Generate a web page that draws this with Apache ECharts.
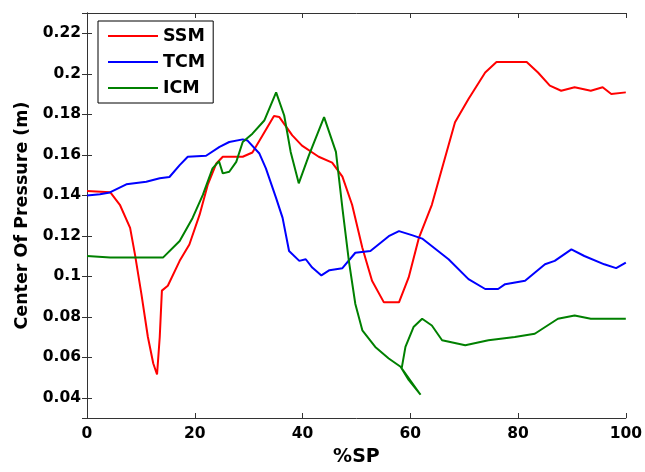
<!DOCTYPE html>
<html>
<head>
<meta charset="utf-8">
<script src="https://cdn.jsdelivr.net/npm/echarts@6/dist/echarts.min.js"></script>
<style>html,body{margin:0;padding:0;background:#fff;}#c{width:645px;height:472px;}</style>
</head>
<body>
<div id="c"></div>
<script>
var xTicks = [0, 20, 40, 60, 80, 100];
var yTickLabels = ['0.04','0.06','0.08','0.1','0.12','0.14','0.16','0.18','0.2','0.22'];

var ssmX = [0, 4.3, 6.1, 8, 8.9, 10.1, 11.3, 12.3, 13, 13.5, 13.9, 15, 17.2, 19, 20.9, 22.4, 24, 25.2, 28.9, 30.7, 32.6, 34.7, 35.7, 38.1, 39.9, 43, 45.5, 47.4, 49.2, 51.1, 52.9, 55.1, 57.9, 59.7, 61.6, 64, 65.9, 68.3, 70.8, 73.9, 76, 81.6, 83.7, 85.9, 88, 90.5, 93.5, 95.7, 97.3, 100];
var ssmY = [0.1421, 0.1415, 0.1353, 0.1239, 0.1108, 0.0912, 0.07, 0.0569, 0.0515, 0.07, 0.0929, 0.0953, 0.1076, 0.1157, 0.1304, 0.1451, 0.1557, 0.159, 0.159, 0.1611, 0.1696, 0.1791, 0.1786, 0.1696, 0.1645, 0.159, 0.1561, 0.1492, 0.1353, 0.1141, 0.0978, 0.0871, 0.0871, 0.0994, 0.119, 0.1353, 0.1533, 0.1761, 0.1875, 0.2006, 0.2058, 0.2058, 0.2006, 0.1941, 0.1916, 0.1933, 0.1916, 0.1933, 0.19, 0.1908];

var tcmX = [0, 2.4, 4.25, 7.3, 11, 13.5, 15.3, 17.2, 18.7, 22.1, 24.6, 26.4, 28.9, 29.8, 32, 33.2, 35.1, 36.3, 37.5, 39.4, 40.6, 41.8, 43.5, 45, 47.4, 49.8, 52.6, 56, 57.9, 60.3, 62.2, 67.1, 70.8, 73.9, 76.3, 77.6, 81.3, 85, 86.8, 89.9, 92.3, 96, 98.2, 100];
var tcmY = [0.1399, 0.1405, 0.1414, 0.1454, 0.1467, 0.1484, 0.149, 0.1549, 0.159, 0.1595, 0.1639, 0.1663, 0.1676, 0.167, 0.1606, 0.1533, 0.1386, 0.1288, 0.1125, 0.1076, 0.1084, 0.1043, 0.1004, 0.103, 0.104, 0.1116, 0.1125, 0.1198, 0.1223, 0.1203, 0.1186, 0.1084, 0.0986, 0.0937, 0.0937, 0.0961, 0.0978, 0.1059, 0.1076, 0.1133, 0.11, 0.1059, 0.104, 0.1067];

var icmX = [0, 4.3, 14.1, 17.2, 19.6, 21.5, 23.3, 24.5, 25.2, 26.4, 27.7, 28.9, 30.7, 32.9, 35.1, 36.6, 37.8, 39.3, 41.2, 44, 46.2, 47.4, 48.6, 49.8, 51.1, 53.5, 56, 58.2, 59.7, 61.9, 58.4, 59.1, 60.6, 62.2, 64, 65.9, 70.2, 74.5, 79.4, 83.1, 87.4, 90.5, 93.5, 100];
var icmY = [0.11, 0.1092, 0.1092, 0.1174, 0.1288, 0.1402, 0.1533, 0.1568, 0.1508, 0.1516, 0.1565, 0.1663, 0.1704, 0.1769, 0.1908, 0.1794, 0.1614, 0.1459, 0.1598, 0.1786, 0.1614, 0.1337, 0.1076, 0.0863, 0.0733, 0.0651, 0.0594, 0.0553, 0.0488, 0.0415, 0.0545, 0.0651, 0.0749, 0.079, 0.0757, 0.0684, 0.0659, 0.0684, 0.07, 0.0716, 0.079, 0.0806, 0.079, 0.079];

function zip(a, b) { return a.map(function (v, i) { return [v, b[i]]; }); }

var FONT = 'DejaVu Sans, sans-serif';
var AX = '#333';
var LINE_ICON = 'path://M0,0L50,0L50,2L0,2Z';

var chart = echarts.init(document.getElementById('c'), null, {renderer: 'canvas'});
var yFmt = function (v) {
  var s = v.toFixed(2).replace(/0+$/, '').replace(/\.$/, '');
  return yTickLabels.indexOf(s) >= 0 ? s : '';
};
var tickFont = {fontFamily: FONT, fontSize: 15.5, fontWeight: 'bold', color: '#000'};
chart.setOption({
  animation: false,
  backgroundColor: '#fff',
  grid: {left: 87, right: 17, top: 13, bottom: 50, containLabel: false},
  legend: {
    left: 98, top: 21, orient: 'vertical',
    backgroundColor: '#fff', borderColor: '#000', borderWidth: 1,
    padding: [6, 8, 6, 10], itemWidth: 50, itemHeight: 14, itemGap: 8,
    icon: LINE_ICON,
    textStyle: {fontFamily: FONT, fontSize: 17.5, fontWeight: 'bold', color: '#000'},
    data: ['SSM', 'TCM', 'ICM']
  },
  xAxis: [{
    type: 'value', min: 0, max: 100, interval: 20,
    name: '%SP', nameLocation: 'middle', nameGap: 30,
    nameTextStyle: {fontFamily: FONT, fontSize: 19, fontWeight: 'bold', color: '#000'},
    axisLine: {show: true, lineStyle: {color: AX, width: 1}},
    axisTick: {show: true, inside: true, length: 5, lineStyle: {color: AX}},
    axisLabel: Object.assign({margin: 8}, tickFont),
    splitLine: {show: false}
  }, {
    type: 'value', min: 0, max: 100, interval: 20, position: 'top',
    axisLine: {show: true, lineStyle: {color: AX, width: 1}},
    axisTick: {show: true, inside: true, length: 5, lineStyle: {color: AX}},
    axisLabel: {show: false}, splitLine: {show: false}
  }],
  yAxis: [{
    type: 'value', min: 0.03, max: 0.23, splitNumber: 10,
    name: 'Center Of Pressure (m)', nameLocation: 'middle', nameGap: 54,
    nameTextStyle: {fontFamily: FONT, fontSize: 17.5, fontWeight: 'bold', color: '#000'},
    axisLine: {show: true, lineStyle: {color: AX, width: 1}},
    axisTick: {show: true, inside: true, length: 5, lineStyle: {color: AX}},
    axisLabel: Object.assign({margin: 6, showMinLabel: false, showMaxLabel: false, formatter: yFmt}, tickFont),
    splitLine: {show: false}
  }, {
    type: 'value', min: 0.03, max: 0.23, splitNumber: 10, position: 'right',
    axisLine: {show: true, lineStyle: {color: AX, width: 1}},
    axisTick: {show: true, inside: true, length: 5, lineStyle: {color: AX}},
    axisLabel: {show: false}, splitLine: {show: false}
  }],
  series: [
    {name: 'SSM', type: 'line', data: zip(ssmX, ssmY), symbol: 'none', lineStyle: {color: '#ff0000', width: 2}, itemStyle: {color: '#ff0000'}},
    {name: 'TCM', type: 'line', data: zip(tcmX, tcmY), symbol: 'none', lineStyle: {color: '#0000ff', width: 2}, itemStyle: {color: '#0000ff'}},
    {name: 'ICM', type: 'line', data: zip(icmX, icmY), symbol: 'none', lineStyle: {color: '#008000', width: 2}, itemStyle: {color: '#008000'}}
  ]
});
</script>
</body>
</html>
